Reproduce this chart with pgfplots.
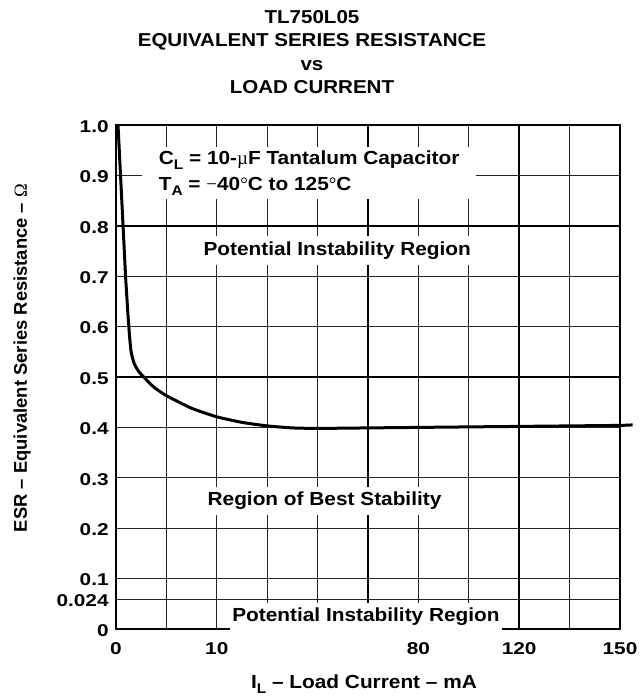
\documentclass[border=0pt]{standalone}
\usepackage{fontspec}
\setmainfont[FakeStretch=1.1]{Liberation Sans}
\newfontfamily\plainsans{Liberation Sans}
\newfontfamily\tickfont[FakeStretch=1.22]{Liberation Sans}
\newfontfamily\symf{Liberation Serif}
\usepackage{pgfplots}
\pgfplotsset{compat=1.18}
\newcommand\sub[1]{\raisebox{-0.45ex}{\fontsize{10.5}{10.5}\selectfont #1}}
\begin{document}
\begin{tikzpicture}
\begin{scope}[x=0.75pt,y=-0.75pt]
\path[use as bounding box] (0,0) rectangle (640,700);
\end{scope}
\begin{axis}[
  at={(87pt,-471.75pt)}, anchor=south west,
  scale only axis, width=378pt, height=378pt,
  xmin=0, xmax=10, ymin=0, ymax=1,
  xtick={0,1,2,3,4,5,6,7,8,9,10},
  xticklabels={0,,10,,,,80,,120,,150},
  ytick={0,0.058,0.1,0.2,0.3,0.4,0.6,0.7,0.9,1.0},
  yticklabels={0,0.024,0.1,0.2,0.3,0.4,0.6,0.7,0.9,1.0},
  extra x ticks={5,8}, extra x tick labels={,},
  extra x tick style={major grid style={line width=1.5pt,black}},
  extra y ticks={0.5,0.8}, extra y tick labels={0.5,0.8},
  extra y tick style={major grid style={line width=1.5pt,black}},
  xmajorgrids, ymajorgrids,
  major grid style={black!85, line width=0.75pt},
  major tick length=0pt,
  axis line style={line width=1.5pt, black},
  tick label style={font=\tickfont\bfseries\fontsize{12.8}{12.8}\selectfont},
  /pgf/number format/assume math mode=true,
  xticklabel style={yshift=-7pt},
  yticklabel style={xshift=-2pt, yshift=-1pt},
  clip=false,
]
\node[fill=white, anchor=north west, inner xsep=3pt, inner ysep=3pt, align=left,
      font=\bfseries\fontsize{14.2}{19.5}\selectfont, minimum width=250pt]
  at (axis cs:0.52,0.957) {C\sub{L} = 10-{\symf\mdseries µ}F Tantalum Capacitor\\T\sub{A} = {\symf\mdseries −}40{\symf\mdseries °}C to 125{\symf\mdseries °}C};
\node[fill=white, anchor=west, inner xsep=2pt, inner ysep=4pt,
      font=\bfseries\fontsize{14.2}{14.2}\selectfont]
  at (axis cs:1.68,0.751) {Potential Instability Region};
\node[fill=white, anchor=west, inner xsep=2pt, inner ysep=4pt,
      font=\bfseries\fontsize{14.2}{14.2}\selectfont]
  at (axis cs:1.76,0.254) {Region of Best Stability};
\node[fill=white, anchor=west, inner xsep=2pt, inner ysep=4pt,
      font=\bfseries\fontsize{14.2}{14.2}\selectfont]
  at (axis cs:2.25,0.024) {Potential Instability Region};
\addplot[black, line width=2.25pt, smooth, tension=0.35] coordinates {
(0.04,1.0) (0.09,0.9) (0.14,0.8) (0.19,0.7) (0.24,0.62) (0.27,0.58)
(0.30,0.55) (0.36,0.527) (0.45,0.511) (0.55,0.50) (0.75,0.48) (1.0,0.463)
(1.5,0.438) (2.0,0.421) (2.5,0.41) (3.0,0.403) (3.5,0.399) (4.0,0.398)
(5.0,0.399) (6.0,0.400) (7.0,0.401) (8.0,0.402) (9.0,0.403) (10.0,0.404)
(10.25,0.405)
};
\end{axis}
\begin{scope}[x=0.75pt,y=-0.75pt]
\node[align=center, font=\bfseries\fontsize{14}{17.5}\selectfont] at (312,52)
  {TL750L05\\EQUIVALENT SERIES RESISTANCE\\vs\\LOAD CURRENT};
\node[font=\bfseries\fontsize{14.2}{14.2}\selectfont] at (364,684)
  {I\sub{L} – Load Current – mA};
\node[rotate=90, font=\plainsans\bfseries\fontsize{13.8}{13.8}\selectfont] at (22,358)
  {ESR – Equivalent Series Resistance – {\symf\mdseries Ω}};
\end{scope}
\end{tikzpicture}
\end{document}
